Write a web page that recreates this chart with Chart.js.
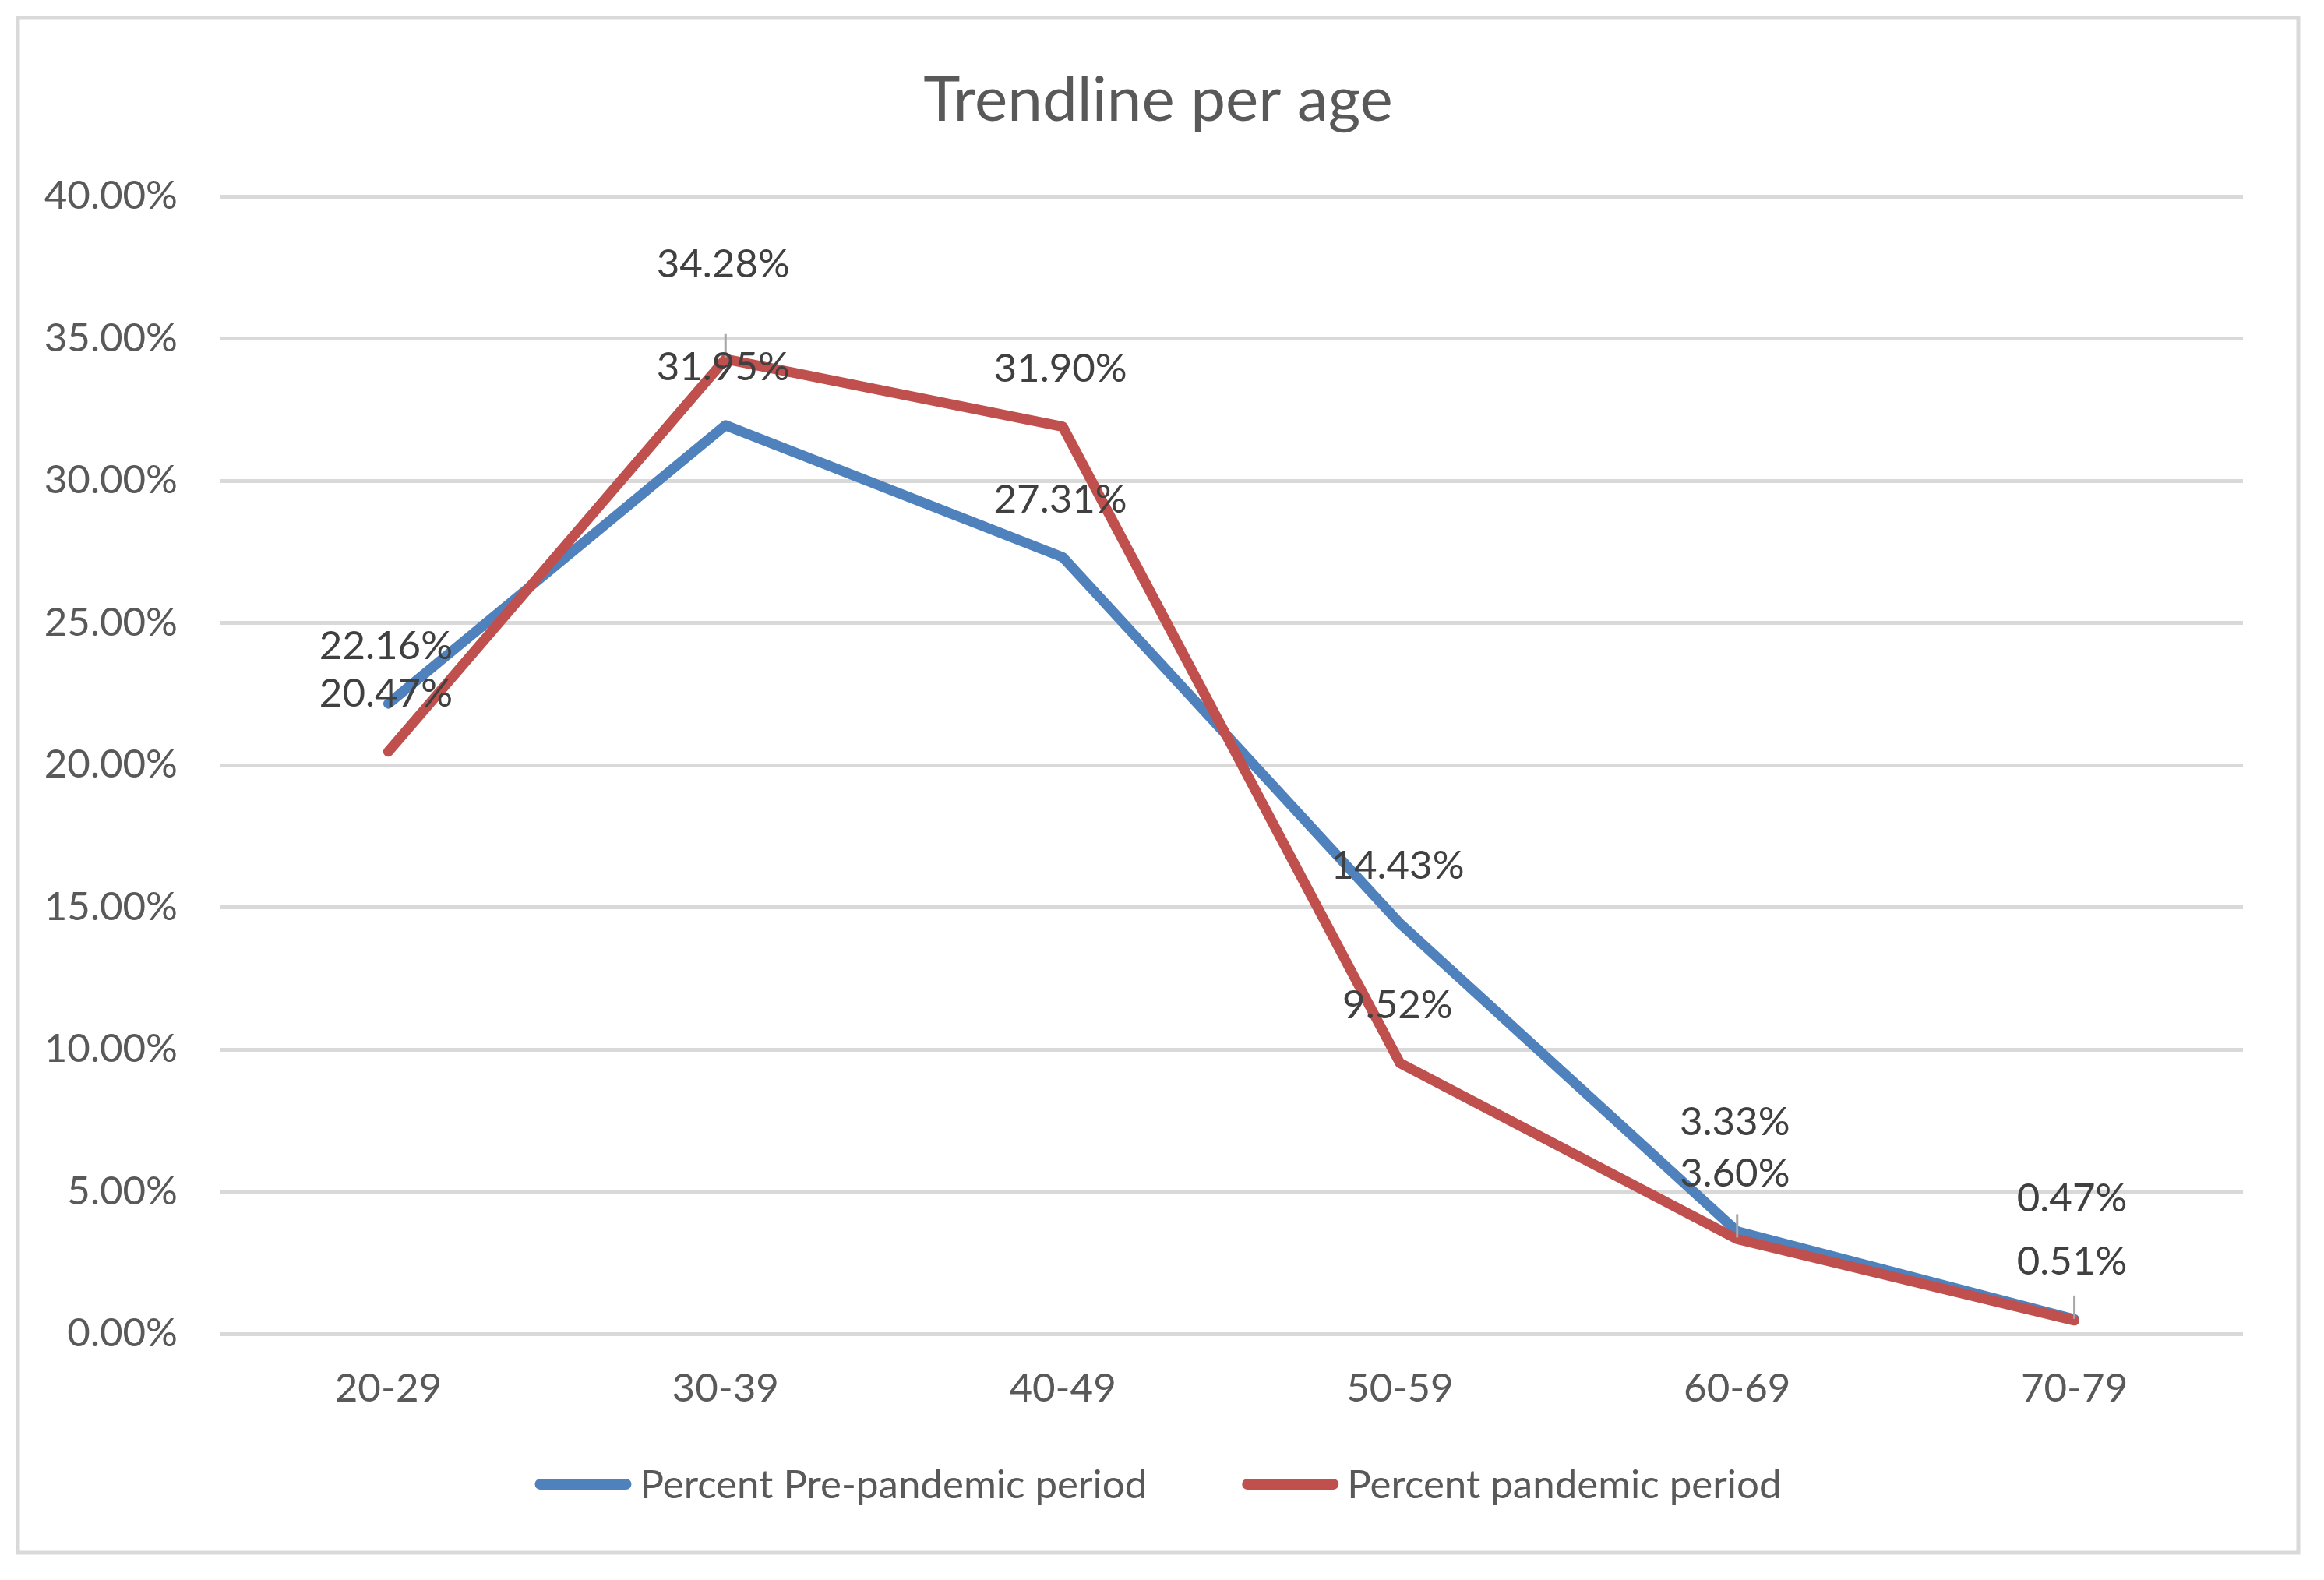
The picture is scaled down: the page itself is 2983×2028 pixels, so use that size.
<!DOCTYPE html>
<html><head><meta charset="utf-8">
<script src="https://cdn.jsdelivr.net/npm/chart.js@4"></script>
<style>html,body{margin:0;padding:0;background:#fff}canvas{display:block}</style>
</head><body>
<canvas id="c" width="2983" height="2028"></canvas>
<script>
// ---- data ----
const categories = ['20-29', '30-39', '40-49', '50-59', '60-69', '70-79'];
const prePandemic = [22.16, 31.95, 27.31, 14.43, 3.60, 0.51];
const pandemic = [20.47, 34.28, 31.90, 9.52, 3.33, 0.47];
const seriesNames = ['Percent Pre-pandemic period', 'Percent pandemic period'];
const titleText = 'Trendline per age';
const yMin = 0, yMax = 40, yStep = 5;

// ---- layout / style (not data) ----
const FONT = 'Lato, "Open Sans", sans-serif';
const TICK_SIZE = 51;
const FRAME = { left: 23, top: 23, right: 2950, bottom: 1993 };
const labelLift = [[74, 74, 74, 74, 74, 74], [74, 121, 74, 74, 150, 156]];
const leader = [[false, false, false, false, false, false], [false, true, false, false, true, true]];

const fmt = v => v.toFixed(2) + '%';

const framePlugin = {
  id: 'frame',
  beforeDraw(chart) {
    const ctx = chart.ctx;
    ctx.save();
    ctx.fillStyle = '#ffffff';
    ctx.fillRect(0, 0, chart.width, chart.height);
    ctx.strokeStyle = '#d9d9d9';
    ctx.lineWidth = 5;
    ctx.strokeRect(FRAME.left, FRAME.top, FRAME.right - FRAME.left, FRAME.bottom - FRAME.top);
    ctx.restore();
  },
  afterDraw(chart) {
    const ctx = chart.ctx;
    const area = chart.chartArea;
    const cx = (FRAME.left + FRAME.right) / 2;
    ctx.save();
    // title
    ctx.fillStyle = '#595959';
    ctx.font = `80px ${FONT}`;
    ctx.textAlign = 'center';
    ctx.textBaseline = 'middle';
    ctx.fillText(titleText, cx, area.top - 123);
    // legend
    ctx.font = `${TICK_SIZE}px ${FONT}`;
    const lineLen = 124, gap = 11, itemGap = 122;
    const ds = chart.data.datasets;
    const widths = ds.map(d => ctx.measureText(d.label).width);
    const total = widths.reduce((a, w) => a + lineLen + gap + w, 0) + itemGap * (ds.length - 1);
    let x = cx - total / 2;
    const y = area.bottom + 193;
    ds.forEach((d, i) => {
      ctx.strokeStyle = d.borderColor;
      ctx.lineWidth = 14;
      ctx.lineCap = 'round';
      ctx.beginPath();
      ctx.moveTo(x + 7, y);
      ctx.lineTo(x + lineLen - 7, y);
      ctx.stroke();
      ctx.fillStyle = '#595959';
      ctx.textAlign = 'left';
      ctx.fillText(d.label, x + lineLen + gap, y + 2);
      x += lineLen + gap + widths[i] + itemGap;
    });
    ctx.restore();
  },
  afterDatasetsDraw(chart) {
    const ctx = chart.ctx;
    ctx.save();
    ctx.font = `${TICK_SIZE}px ${FONT}`;
    ctx.textAlign = 'center';
    ctx.textBaseline = 'middle';
    chart.data.datasets.forEach((d, di) => {
      const meta = chart.getDatasetMeta(di);
      meta.data.forEach((pt, i) => {
        if (leader[di][i]) {
          ctx.strokeStyle = '#a6a6a6';
          ctx.lineWidth = 3;
          ctx.beginPath();
          ctx.moveTo(pt.x, pt.y - 32);
          ctx.lineTo(pt.x, pt.y - 2);
          ctx.stroke();
        }
      });
    });
    chart.data.datasets.forEach((d, di) => {
      const meta = chart.getDatasetMeta(di);
      meta.data.forEach((pt, i) => {
        ctx.fillStyle = '#404040';
        ctx.fillText(fmt(d.data[i]), pt.x - 3, pt.y - labelLift[di][i]);
      });
    });
    ctx.restore();
  }
};

new Chart(document.getElementById('c'), {
  type: 'line',
  data: {
    labels: categories,
    datasets: [
      { label: seriesNames[0], data: prePandemic, borderColor: '#4f81bd', backgroundColor: '#4f81bd',
        borderWidth: 13, pointRadius: 0, borderJoinStyle: 'round', borderCapStyle: 'round', tension: 0, order: 1 },
      { label: seriesNames[1], data: pandemic, borderColor: '#c0504d', backgroundColor: '#c0504d',
        borderWidth: 13, pointRadius: 0, borderJoinStyle: 'round', borderCapStyle: 'round', tension: 0, order: 0 }
    ]
  },
  options: {
    responsive: false,
    devicePixelRatio: 1,
    animation: false,
    layout: { padding: { left: 0, right: 104, top: 252, bottom: 216 } },
    plugins: { legend: { display: false }, title: { display: false }, tooltip: { enabled: false } },
    scales: {
      x: {
        offset: true,
        grid: { display: false, drawTicks: false },
        border: { display: false },
        ticks: { color: '#595959', font: { family: FONT, size: TICK_SIZE }, padding: 40, maxRotation: 0 },
        afterFit(s) { s.height = 100; }
      },
      y: {
        min: yMin, max: yMax,
        grid: { color: '#d9d9d9', lineWidth: 5, drawTicks: false },
        border: { display: false },
        ticks: { stepSize: yStep, color: '#595959', font: { family: FONT, size: TICK_SIZE }, padding: 54,
          callback: v => fmt(v) },
        afterFit(s) { s.width = 282; }
      }
    }
  },
  plugins: [framePlugin]
});
</script>
</body></html>
